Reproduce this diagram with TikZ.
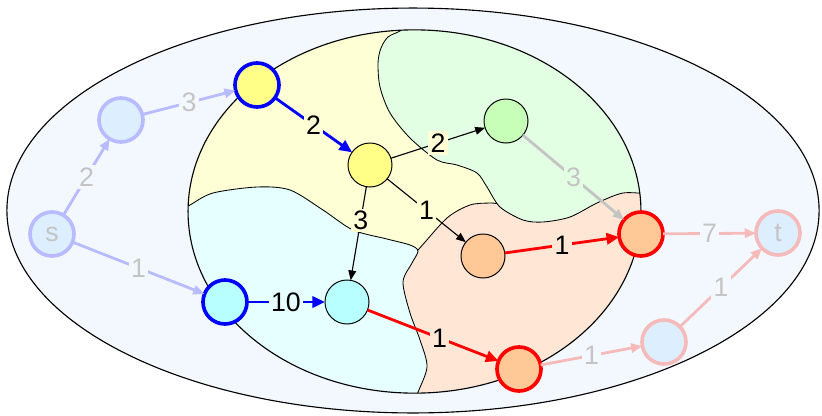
\documentclass[tikz,border=0pt]{standalone}
\usepackage{fontspec}
\setmainfont{Liberation Sans}
\usetikzlibrary{arrows.meta}
\definecolor{outerbg}{HTML}{F3F8FF}
\definecolor{yelreg}{HTML}{FFFFD5}
\definecolor{grnreg}{HTML}{E3FFE3}
\definecolor{cyanreg}{HTML}{E6FFFF}
\definecolor{orgreg}{HTML}{FFE6D5}
\definecolor{yelnode}{HTML}{FFFF88}
\definecolor{grnnode}{HTML}{C8FFB8}
\definecolor{cyannode}{HTML}{B8FFFF}
\definecolor{orgnode}{HTML}{FFC896}
\definecolor{fadefill}{HTML}{DDEEFF}
\definecolor{fadeblue}{HTML}{B8BCFF}
\definecolor{fadered}{HTML}{F5BBBB}
\definecolor{fadetext}{HTML}{C4C4C4}
\tikzset{
  vtx/.style={circle, draw, minimum size=1.1cm, inner sep=0pt, outer sep=0pt, line width=0.7pt},
  bluevtx/.style={vtx, draw=blue, line width=2.6pt},
  redvtx/.style={vtx, draw=red, line width=2.6pt},
  fadevtx/.style={vtx, fill=fadefill, draw=#1, line width=2.6pt, text=fadetext},
  wt/.style={fill=#1, inner sep=1.6pt, text=black},
  fadewt/.style={fill=outerbg, inner sep=1.6pt, text=fadetext},
  arc/.style={-{Triangle[length=7pt,width=5.5pt]}, line width=0.8pt},
  bluearc/.style={-{Triangle[length=9pt,width=8pt]}, draw=blue, line width=2pt},
  redarc/.style={-{Triangle[length=9pt,width=8pt]}, draw=red, line width=2pt},
  fadearc/.style={-{Triangle[length=8pt,width=6.5pt]}, draw=#1, line width=2pt}
}
\begin{document}
\begin{tikzpicture}[x=0.025cm, y=-0.025cm, font=\fontsize{19}{19}\selectfont]
\useasboundingbox (0,0) rectangle (822,415);
\filldraw[fill=outerbg, line width=0.8pt] (413,210.5) ellipse [x radius=10.15cm, y radius=5.06cm];
\begin{scope}
\clip (414.5,211.5) ellipse [x radius=5.66cm, y radius=4.54cm];
\fill[yelreg] (180,20) rectangle (650,400);
\filldraw[fill=orgreg, line width=0.6pt] plot[smooth] coordinates {(400,268) (418,250) (447,218) (470,205) (490,203) (503,203) (530,192) (600,185)} -- (700,185) -- (700,420) -- (380,420) -- cycle;
\filldraw[fill=cyanreg, line width=0.6pt] plot[smooth] coordinates {(178,212) (190,205) (213,193) (257,187) (290,190) (323,210) (353,230) (387,239) (410,245) (418,251) (412,263) (403,282) (410,313) (420,340) (427,367) (417,395) (410,420)} -- (150,420) -- (150,212) -- cycle;
\filldraw[fill=grnreg, line width=0.6pt] plot[smooth] coordinates {(414,22) (400,31) (388,37) (381,48) (378,63) (380,87) (390,113) (410,138) (437,160) (457,165) (477,173) (487,187) (500,207) (523,220) (543,222) (570,217) (597,203) (623,193) (648,194)} -- (700,194) -- (700,0) -- (414,0) -- cycle;
\end{scope}
\draw[line width=0.8pt] (414.5,211.5) ellipse [x radius=5.66cm, y radius=4.54cm];

\node[fadevtx=fadeblue] (s) at (52,234) {s};
\node[fadevtx=fadeblue] (a) at (121,120) {};
\node[bluevtx, fill=yelnode] (b) at (257,85) {};
\node[vtx, fill=yelnode] (c) at (370,165) {};
\node[vtx, fill=grnnode] (d) at (506,121) {};
\node[redvtx, fill=orgnode] (e) at (641,234) {};
\node[fadevtx=fadered] (t) at (778,233) {t};
\node[vtx, fill=orgnode] (f) at (483,256) {};
\node[bluevtx, fill=cyannode] (g) at (225,302) {};
\node[vtx, fill=cyannode] (h) at (347,302) {};
\node[redvtx, fill=orgnode] (i) at (519,369) {};
\node[fadevtx=fadered] (j) at (664,342) {};

\draw[fadearc=fadeblue] (s) -- node[fadewt] {2} (a);
\draw[fadearc=fadeblue] (a) -- node[fadewt] {3} (b);
\draw[fadearc=fadeblue] (s) -- node[fadewt] {1} (g);
\draw[bluearc] (b) -- node[wt=yelreg] {2} (c);
\draw[arc] (c) -- node[wt=yelreg] {2} (d);
\draw[arc] (c) -- node[wt=yelreg, pos=0.36] {3} (h);
\draw[arc] (c) -- node[wt=yelreg] {1} (f);
\draw[fadearc=fadetext] (d) -- node[wt=grnreg, text=fadetext] {3} (e);
\draw[redarc] (f) -- node[wt=orgreg] {1} (e);
\draw[bluearc] (g) -- node[wt=cyanreg] {10} (h);
\draw[redarc] (h) -- node[wt=orgreg, pos=0.55] {1} (i);
\draw[fadearc=fadered] (e) -- node[fadewt] {7} (t);
\draw[fadearc=fadered] (i) -- node[fadewt] {1} (j);
\draw[fadearc=fadered] (j) -- node[fadewt] {1} (t);
\end{tikzpicture}
\end{document}
